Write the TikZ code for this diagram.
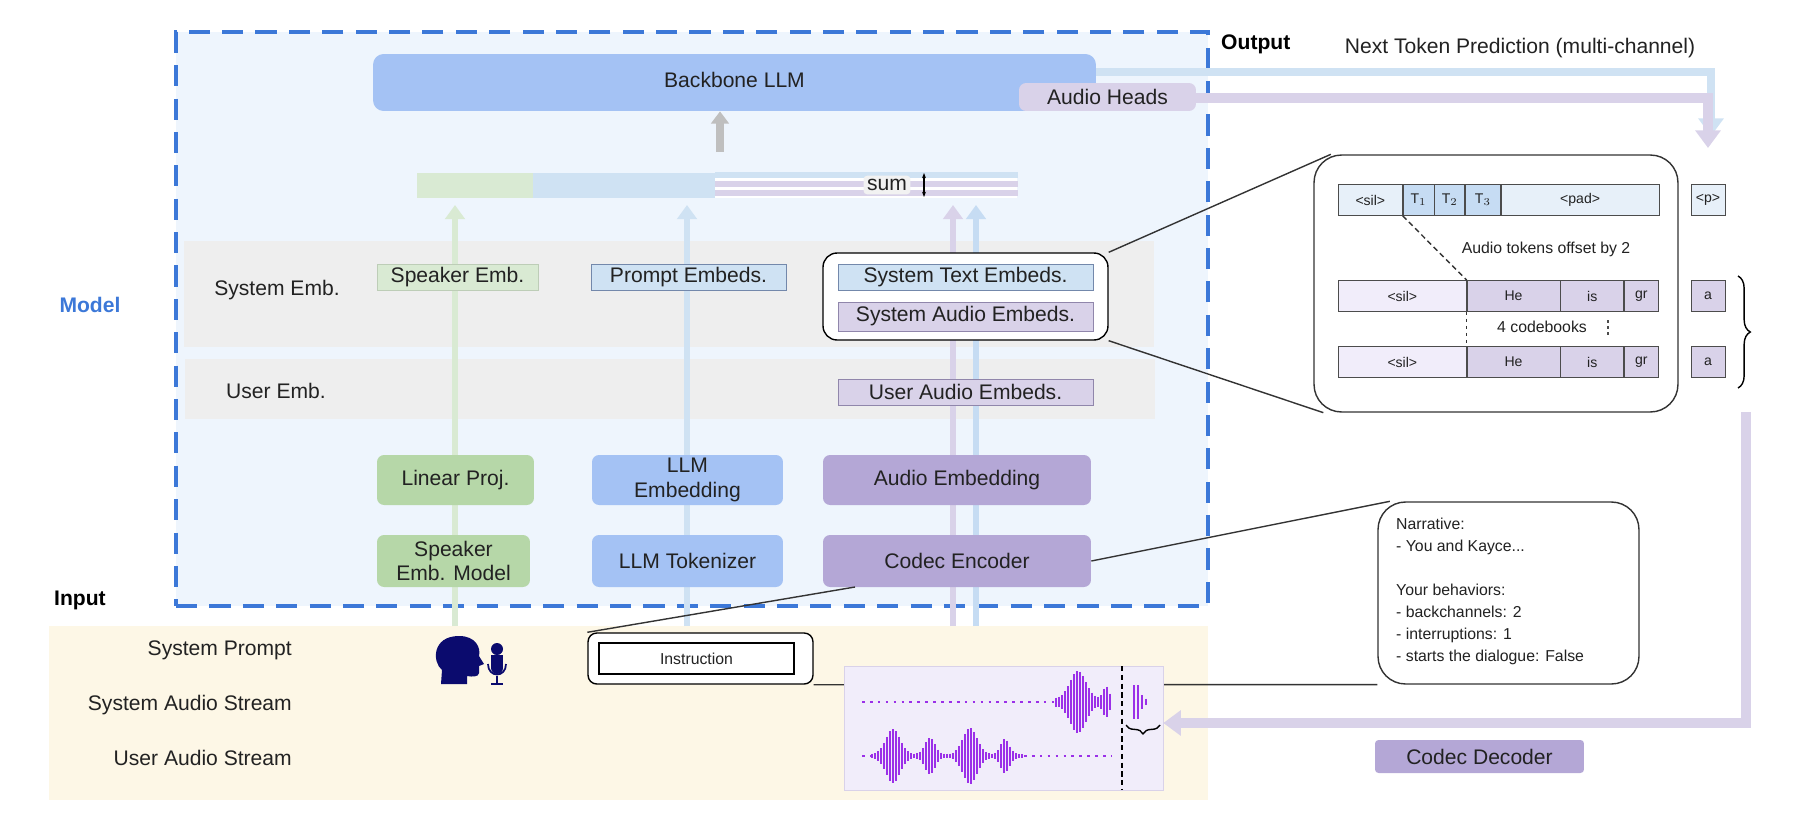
\documentclass[tikz,border=0pt]{standalone}
\usepackage{fontspec}
\setmainfont{Liberation Sans}
\usetikzlibrary{arrows.meta,decorations.pathreplacing}
\definecolor{modelbg}{HTML}{EEF5FD}
\definecolor{modelline}{HTML}{3C78D8}
\definecolor{inputbg}{HTML}{FDF7E6}
\definecolor{bandgray}{HTML}{EEEEEE}
\definecolor{bluebox}{HTML}{A4C2F4}
\definecolor{lightblue}{HTML}{CFE2F3}
\definecolor{greenbox}{HTML}{B6D7A8}
\definecolor{lightgreen}{HTML}{D9EAD3}
\definecolor{purplebox}{HTML}{B4A7D6}
\definecolor{lightpurple}{HTML}{D9D2E9}
\definecolor{palepurple}{HTML}{F1EDFA}
\definecolor{wavec}{HTML}{9B30E8}
\definecolor{headc}{HTML}{0B0B6E}
\definecolor{txt}{HTML}{222222}
\begin{document}
\begin{tikzpicture}[x=0.02cm, y=-0.02cm, font=\fontsize{12}{14}\selectfont, text=txt,
  box/.style={rounded corners=4pt, minimum height=1cm, align=center, inner sep=1pt},
  emb/.style={draw, minimum height=0.52cm, inner sep=1pt},
  band/.style={fill=bandgray, minimum width=19.4cm},
  callout/.style={draw=black!80, rounded corners=0.55cm, fill=white, thick},
  zoomline/.style={draw=black!80, thick},
  tokrow/.style={draw=black!70, minimum height=0.62cm, inner sep=0pt, font=\fontsize{8}{9}\selectfont},
  flow/.style={line width=3.5pt, -{Triangle[length=8pt, width=11pt]}},
  wave/.style={wavec, line width=1pt},
  wavedots/.style={wavec, line width=1.5pt, dash pattern=on 1.5pt off 3pt}]
\useasboundingbox (0,0) rectangle (1800,832);
% regions
\node (modelreg) [draw=modelline, fill=modelbg, line width=2pt, dash pattern=on 12pt off 7pt,
  minimum width=20.64cm, minimum height=11.48cm] at (692,319) {};
\node (inputreg) [fill=inputbg, minimum width=23.18cm, minimum height=3.48cm] at (628.5,713) {};
\node (modellbl) [font=\fontsize{12}{14}\selectfont\bfseries, text=modelline] at (90,305) {Model};
\node (inputlbl) [font=\fontsize{12}{14}\selectfont\bfseries, text=black] at (80,600) {Input};
\node (outputlbl) [font=\fontsize{12}{14}\selectfont\bfseries, text=black, anchor=west] at (1215,44) {Output};
\node (ntp) at (1520,48) {Next Token Prediction (multi-channel)};
% embedding bands
\node (sysband) [band, minimum height=2.12cm] at (669,294) {};
\node (userband) [band, minimum height=1.2cm] at (670,389) {};
\node (syslbl) at (277,290) {System Emb.};
\node (userlbl) at (276,391) {User Emb.};
% streams going up
\draw[flow, lightgreen] (455,626) -- (455,205);
\draw[flow, lightblue] (687,626) -- (687,205);
\draw[flow, lightpurple] (953,626) -- (953,205);
\draw[flow, lightblue!80!bluebox] (976,626) -- (976,205);
% sum bar
\node (sumg) [fill=lightgreen, minimum width=2.32cm, minimum height=0.5cm, inner sep=0pt, anchor=west] at (417,185) {};
\node (sumb) [fill=lightblue, minimum width=3.64cm, minimum height=0.5cm, inner sep=0pt, anchor=west] at (533,185) {};
\node (sump) [fill=white, minimum width=6.04cm, minimum height=0.5cm, inner sep=0pt, anchor=west] at (715,185) {};
\foreach \yy/\cc in {175/lightblue, 184/lightpurple, 193/lightpurple}
  \draw[\cc, line width=3pt] (sump.west |- 0,\yy) -- (sump.east |- 0,\yy);
\node (sumlbl) [fill=white!90!gray, inner sep=2pt, rounded corners=2pt] at (887,185) {sum};
\draw[{Stealth[length=3pt]}-{Stealth[length=3pt]}, black, thick] (924,173) -- (924,197);
% backbone
\node (llm) [box, fill=bluebox, minimum width=14.46cm, minimum height=1.14cm, rounded corners=6pt] at (734.5,82.5) {};
\node (llmlbl) at (734.5,80) {Backbone LLM};
\node (heads) [box, fill=lightpurple, minimum width=3.54cm, minimum height=0.56cm] at (1107.5,97) {Audio Heads};
\draw[line width=4pt, gray!50, -{Triangle[length=7pt, width=10pt]}] (720,152) -- (llm.south -| 720,0);
% embeddings
\node (spk) [emb, draw=greenbox!80!black!60, fill=lightgreen, minimum width=3.22cm] at (457.5,277) {Speaker Emb.};
\node (prm) [emb, draw=bluebox!70!black, fill=lightblue, minimum width=3.9cm] at (688.5,277) {Prompt Embeds.};
\node (sysgrp) [draw=black, rounded corners=8pt, thick, fill=white, minimum width=5.7cm, minimum height=1.74cm] at (965.5,296.5) {};
\node (stxt) [emb, draw=bluebox!70!black, fill=lightblue, minimum width=5.1cm] at (965.5,277) {System Text Embeds.};
\node (saud) [emb, draw=purplebox!80!black, fill=lightpurple, minimum width=5.1cm, minimum height=0.58cm] at (965.5,316.5) {System Audio Embeds.};
\node (uaud) [emb, draw=purplebox!80!black, fill=lightpurple, minimum width=5.1cm] at (965.5,392) {User Audio Embeds.};
% encoders
\node (lin) [box, fill=greenbox, minimum width=3.14cm] at (455.5,480) {Linear Proj.};
\node (lemb) [box, fill=bluebox, minimum width=3.82cm] at (687.5,480) {LLM\\Embedding};
\node (aemb) [box, fill=purplebox, minimum width=5.36cm] at (957,480) {Audio Embedding};
\node (sem) [box, fill=greenbox, minimum width=3.06cm, minimum height=1.04cm] at (453.5,561) {Speaker\\Emb. Model};
\node (tok) [box, fill=bluebox, minimum width=3.82cm, minimum height=1.04cm] at (687.5,561) {LLM Tokenizer};
\node (enc) [box, fill=purplebox, minimum width=5.36cm, minimum height=1.04cm] at (957,561) {Codec Encoder};
% input labels
\node (sp) [anchor=east] at (298,650) {System Prompt};
\node (sas) [anchor=east] at (298,705) {System Audio Stream};
\node (uas) [anchor=east] at (298,758) {User Audio Stream};
% speaker icon
\fill[headc] (441,684) -- (442,670) .. controls (432,662) and (432,636) .. (459,636)
  .. controls (476,636) and (481,648) .. (479,656) -- (484,664) -- (479,666) -- (479,673)
  .. controls (479,677) and (472,677) .. (467,676) -- (467,684) -- cycle;
\fill[headc] (491,655) rectangle (503,668);
\fill[headc] (497,649) circle (6);
\fill[headc] (497,668) circle (6);
\draw[headc, line width=1pt] (488,664) .. controls (488,678) and (506,678) .. (506,664);
\draw[headc, line width=1pt] (497,676) -- (497,684) (491,684) -- (503,684);
% callout lines
\node (instr) [draw=black, rounded corners=5pt, thick, fill=white, minimum width=4.5cm, minimum height=1.02cm] at (700.5,658.5) {};
\node (instrin) [draw=black, thick, minimum width=3.9cm, minimum height=0.62cm, font=\fontsize{9}{11}\selectfont] at (696.5,658.5) {Instruction};
\coordinate (encfoot) at (855,587);
\draw[zoomline] (instr.north west) -- (encfoot);
\node (narr) [callout, minimum width=5.22cm, minimum height=3.64cm] at (1508.5,593) {};
\node (narrtxt) [anchor=north west, align=left, font=\fontsize{9}{12.5}\selectfont] at (1390,512)
  {Narrative:\\- You and Kayce...\\[12.5pt]Your behaviors:\\- backchannels: 2\\- interruptions: 1\\- starts the dialogue: False};
\draw[zoomline] (instr.south east) -- (narr.south west);
\draw[zoomline] (enc.east) -- ([xshift=0.25cm]narr.north west);
% waveforms
\node (wavebox) [draw=lightpurple, fill=palepurple, minimum width=6.38cm, minimum height=2.48cm] at (1003.5,728) {};
\draw[wavedots] (862,702) -- (1054,702);
\foreach \x in {1056,1059,...,1112} {
  \pgfmathsetmacro\h{27*exp(-((\x-1078)/11)^2)+12*exp(-((\x-1106)/4)^2)+4}
  \draw[wave] (\x,702-\h) -- (\x,702+\h);
}
\foreach \x in {1134,1138,1142,1146} {
  \pgfmathsetmacro\h{16*exp(-((\x-1136)/5)^2)+3}
  \draw[wave] (\x,702-\h) -- (\x,702+\h);
}
\draw[wavedots] (1024,756) -- (1112,756);
\draw[wavedots] (862,756) -- (870,756);
\foreach \x in {872,875,...,1022} {
  \pgfmathsetmacro\h{25*exp(-((\x-893)/10)^2)+16*exp(-((\x-930)/7)^2)+26*exp(-((\x-970)/10)^2)+15*exp(-((\x-1005)/6)^2)+2}
  \draw[wave] (\x,756-\h) -- (\x,756+\h);
}
\draw[black, thick, dash pattern=on 3pt off 2pt] (1122,666) -- (1122,790);
\draw[black, thick, decorate, decoration={brace, amplitude=5pt}] (1160,725) -- (1126,725);
% token box
\node (tokbox) [callout, minimum width=7.28cm, minimum height=5.14cm] at (1496,283.5) {};
\draw[zoomline] (sysgrp.north east) -- ([xshift=0.35cm]tokbox.north west);
\draw[zoomline] (sysgrp.south east) -- ([xshift=0.2cm]tokbox.south west);
\node (t0) [tokrow, fill=lightblue!50, minimum width=1.28cm, anchor=west] at (1338,200) {<sil>};
\node (t1) [tokrow, fill=lightblue!80!bluebox, minimum width=0.62cm, anchor=west] at (t0.east) {T$_1$};
\node (t2) [tokrow, fill=lightblue!80!bluebox, minimum width=0.6cm, anchor=west] at (t1.east) {T$_2$};
\node (t3) [tokrow, fill=lightblue!80!bluebox, minimum width=0.7cm, anchor=west] at (t2.east) {T$_3$};
\node (tpad) [tokrow, fill=lightblue!50, minimum width=3.16cm, anchor=west] at (t3.east) {<pad>};
\node (tp) [tokrow, fill=lightblue!50, minimum width=0.68cm] at (1708,200) {<p>};
\foreach \r/\yy in {a/296, b/362} {
  \node (\r0) [tokrow, fill=palepurple, minimum width=2.56cm, anchor=west] at (1338,\yy) {<sil>};
  \node (\r1) [tokrow, fill=lightpurple, minimum width=1.86cm, anchor=west] at (\r0.east) {He};
  \node (\r2) [tokrow, fill=lightpurple, minimum width=1.26cm, anchor=west] at (\r1.east) {is};
  \node (\r3) [tokrow, fill=lightpurple, minimum width=0.68cm, anchor=west] at (\r2.east) {gr};
  \node (\r4) [tokrow, fill=lightpurple, minimum width=0.68cm] at (1708,\yy) {a};
}
\draw[black!80, thick, dash pattern=on 3pt off 2pt] (t0.south east) -- (a0.north east);
\draw[black!80, thick, dash pattern=on 2pt off 2pt] (a0.south east) -- (b0.north east);
\node (offlbl) [font=\fontsize{9}{11}\selectfont] at (1546,249) {Audio tokens offset by 2};
\node (cblbl) [font=\fontsize{9}{11}\selectfont] at (1542,327) {4 codebooks};
\draw[black!70, thick, dash pattern=on 1.5pt off 2pt] (1608,320) -- (1608,336);
\draw[black, thick, decorate, decoration={brace, amplitude=7pt}] (1738,276) -- (1738,388);
% output arrows
\draw[lightblue, line width=5pt, -{Triangle[length=10pt, width=14pt]}] (llm.east |- 0,72) -- (1711,72) -- (1711,136);
\draw[lightpurple, line width=6pt, -{Triangle[length=10pt, width=14pt]}] (heads.east |- 0,98) -- (1708,98) -- (1708,148);
\draw[lightpurple, line width=6pt, -{Triangle[length=10pt, width=14pt]}] (1746,412) -- (1746,723) -- (wavebox.east |- 0,723);
\node (dec) [box, fill=purplebox, minimum width=4.18cm, minimum height=0.66cm, rounded corners=2pt] at (1479.5,756.5) {Codec Decoder};
\end{tikzpicture}
\end{document}
